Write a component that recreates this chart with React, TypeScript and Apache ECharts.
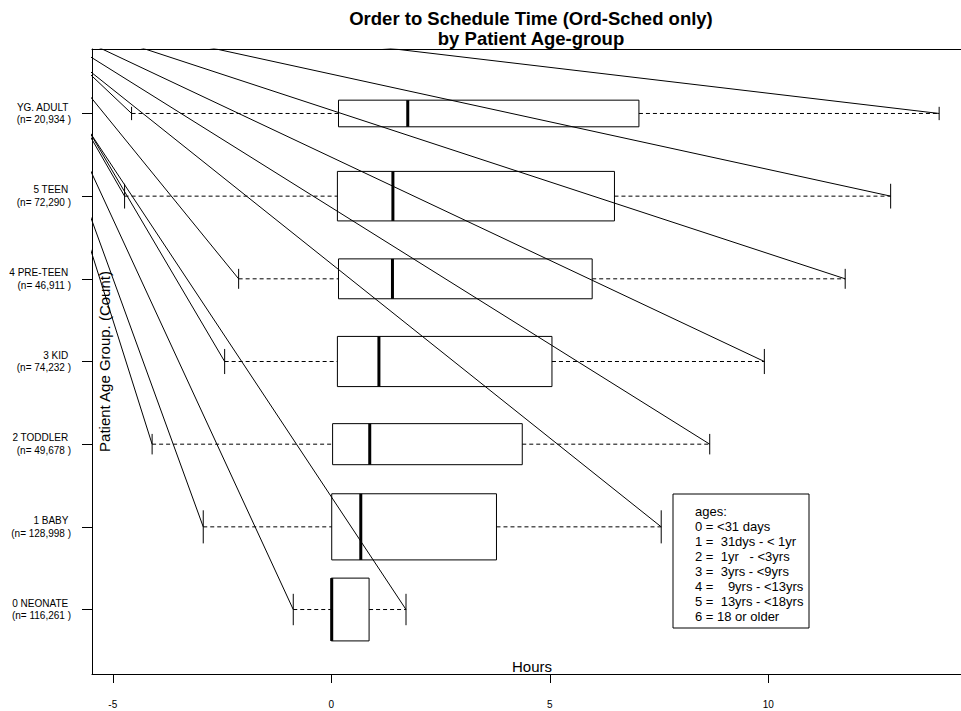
import React, { useEffect, useRef } from "react";
import * as echarts from "echarts";

// ---- data ----
const GROUPS = ["0 NEONATE", "1 BABY", "2 TODDLER", "3 KID", "4 PRE-TEEN", "5 TEEN", "YG. ADULT"];
const COUNTS = [116261, 128998, 49678, 74232, 46911, 72290, 20934];
const LOWER_WHISKER = [-0.87, -2.93, -4.1, -2.44, -2.12, -4.73, -4.57];
const Q1 = [0.0, 0.01, 0.03, 0.14, 0.165, 0.14, 0.165];
const MEDIAN = [0.01, 0.675, 0.88, 1.09, 1.4, 1.41, 1.75];
const Q3 = [0.865, 3.78, 4.37, 5.05, 5.97, 6.48, 7.04];
const UPPER_WHISKER = [1.71, 7.55, 8.66, 9.91, 11.76, 12.8, 13.91];
const X_TICKS = [-5, 0, 5, 10];
// the reference image is cropped at the right: the visible part of the hours axis ends here
const X_VISIBLE_MAX = 14.41;
// points (hours, group position) from which the stray diagonal lines run to the whisker ends
const UPPER_LINE_ORIGIN = [-7.49, 7.34];
const LOWER_LINE_ORIGIN = [-7.31, 7.37];
const LEGEND_LINES = [
  "ages:",
  "0 = <31 days",
  "1 =  31dys - < 1yr",
  "2 =  1yr   - <3yrs",
  "3 =  3yrs - <9yrs",
  "4 =    9yrs - <13yrs",
  "5 =  13yrs - <18yrs",
  "6 = 18 or older",
];
const TITLE_LINES = ["Order to Schedule Time (Ord-Sched only)", "by Patient Age-group"];

const FONT = "'Liberation Sans', Arial, Helvetica, sans-serif";

export default function App() {
  const ref = useRef<HTMLDivElement>(null);

  useEffect(() => {
    document.body.style.margin = "0";
    if (!ref.current) return;
    const chart = echarts.init(ref.current, undefined, { renderer: "svg" });

    const lo = Math.min(...LOWER_WHISKER);
    const hi = Math.max(...UPPER_WHISKER);
    const xMin = lo - 0.04 * (hi - lo);
    const yMin = -0.5 - 0.04 * GROUPS.length;
    const yMax = GROUPS.length - 0.5 + 0.04 * GROUPS.length;
    const nMax = Math.max(...COUNTS);

    const boxData = GROUPS.map((_, k) => [
      k,
      LOWER_WHISKER[k],
      Q1[k],
      MEDIAN[k],
      Q3[k],
      UPPER_WHISKER[k],
      0.8 * Math.sqrt(COUNTS[k] / nMax),
    ]);

    const lineData: any[] = [];
    GROUPS.forEach((_, k) => {
      lineData.push({ coords: [UPPER_LINE_ORIGIN, [UPPER_WHISKER[k], k]] });
      lineData.push({ coords: [LOWER_LINE_ORIGIN, [LOWER_WHISKER[k], k]] });
    });

    const yLabel = (k: number) =>
      GROUPS[k] + " \n(n= " + COUNTS[k].toLocaleString("en-US") + " )";

    const renderItem = (params: any, api: any) => {
      const k = api.value(0);
      const vLo = api.value(1);
      const vQ1 = api.value(2);
      const vMed = api.value(3);
      const vQ3 = api.value(4);
      const vHi = api.value(5);
      const bw = api.value(6);
      const h = api.size([0, bw])[1];
      const cy = api.coord([0, k])[1];
      const xLo = api.coord([vLo, k])[0];
      const xQ1 = api.coord([vQ1, k])[0];
      const xMed = api.coord([vMed, k])[0];
      const xQ3 = api.coord([vQ3, k])[0];
      const xHi = api.coord([vHi, k])[0];
      const dash = { stroke: "#000", lineWidth: 1, lineDash: [4, 3] };
      const solid = { stroke: "#000", lineWidth: 1 };
      return {
        type: "group",
        children: [
          { type: "line", shape: { x1: xLo, y1: cy, x2: xQ1, y2: cy }, style: dash },
          { type: "line", shape: { x1: xQ3, y1: cy, x2: xHi, y2: cy }, style: dash },
          { type: "line", shape: { x1: xLo, y1: cy - h / 4, x2: xLo, y2: cy + h / 4 }, style: solid },
          { type: "line", shape: { x1: xHi, y1: cy - h / 4, x2: xHi, y2: cy + h / 4 }, style: solid },
          {
            type: "rect",
            shape: { x: xQ1, y: cy - h / 2, width: xQ3 - xQ1, height: h },
            style: { fill: "none", stroke: "#000", lineWidth: 1 },
          },
          {
            type: "line",
            shape: { x1: xMed, y1: cy - h / 2, x2: xMed, y2: cy + h / 2 },
            style: { stroke: "#000", lineWidth: 3 },
          },
        ],
      };
    };

    const graphics: any[] = [];
    TITLE_LINES.forEach((t, i) => {
      graphics.push({
        type: "text",
        x: 531,
        y: 18 + i * 20,
        style: {
          text: t,
          font: "bold 18.5px " + FONT,
          fill: "#000",
          align: "center",
          verticalAlign: "middle",
        },
      });
    });
    graphics.push({
      type: "text",
      x: 532,
      y: 666,
      style: { text: "Hours", font: "15px " + FONT, fill: "#000", align: "center", verticalAlign: "middle" },
    });
    graphics.push({
      type: "text",
      x: 104,
      y: 361.5,
      rotation: Math.PI / 2,
      style: {
        text: "Patient Age Group. (Count)",
        font: "15px " + FONT,
        fill: "#000",
        align: "center",
        verticalAlign: "middle",
      },
    });
    graphics.push({
      type: "rect",
      shape: { x: 673, y: 494, width: 136, height: 134 },
      style: { fill: "#fff", stroke: "#000", lineWidth: 1 },
      z: 10,
    });
    LEGEND_LINES.forEach((t, i) => {
      graphics.push({
        type: "text",
        x: 695,
        y: 511.7 + i * 14.9,
        z: 11,
        style: { text: t, font: "13px " + FONT, fill: "#000", align: "left", verticalAlign: "middle" },
      });
    });

    const baseX = {
      type: "value",
      min: xMin,
      max: X_VISIBLE_MAX,
      splitLine: { show: false },
    };

    chart.setOption({
      animation: false,
      backgroundColor: "#fff",
      grid: {
        left: 92,
        top: 49,
        right: 0,
        height: 625,
        show: false,
        containLabel: false,
      },
      xAxis: [
        {
          ...baseX,
          position: "bottom",
          axisLine: { show: true, onZero: false, lineStyle: { color: "#000", width: 1 } },
          axisTick: { show: true, length: 9, customValues: X_TICKS, lineStyle: { color: "#000" } },
          axisLabel: {
            show: true,
            customValues: X_TICKS,
            margin: 25,
            color: "#000",
            fontFamily: FONT,
            fontSize: 10,
            formatter: (v: number) => String(v),
          },
        },
        {
          ...baseX,
          position: "top",
          axisLine: { show: true, onZero: false, lineStyle: { color: "#000", width: 1 } },
          axisTick: { show: false },
          axisLabel: { show: false },
        },
      ],
      yAxis: {
        type: "value",
        min: yMin,
        max: yMax,
        axisLine: { show: true, onZero: false, lineStyle: { color: "#000", width: 1 } },
        axisTick: { show: true, length: 10, customValues: GROUPS.map((_, k) => k), lineStyle: { color: "#000" } },
        axisLabel: {
          show: true,
          customValues: GROUPS.map((_, k) => k),
          margin: 21,
          color: "#000",
          fontFamily: FONT,
          fontSize: 10,
          lineHeight: 12.4,
          align: "right",
          formatter: (v: number) => yLabel(Math.round(v)),
        },
        splitLine: { show: false },
      },
      series: [
        {
          type: "custom",
          renderItem,
          data: boxData,
          clip: false,
          silent: true,
          z: 2,
        },
        {
          type: "lines",
          coordinateSystem: "cartesian2d",
          data: lineData,
          clip: true,
          silent: true,
          lineStyle: { color: "#000", width: 1, opacity: 1 },
          z: 3,
        },
      ],
      graphic: graphics,
    });

    return () => chart.dispose();
  }, []);

  return <div ref={ref} style={{ width: 961, height: 711 }} />;
}
